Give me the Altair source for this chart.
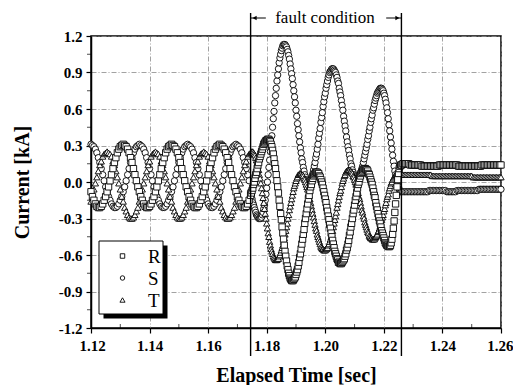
import altair as alt
import pandas as pd

# recorder sampling: 0.5 ms outside the fault, 0.25 ms during the fault
PRE_START, PRE_STEP = 1.12, 0.0005
FAULT_START, FAULT_STEP = 1.1745, 0.00025
POST_START, POST_STEP = 1.2265, 0.0005

# ---- phase R (squares) ----
R_PRE = [-0.08, -0.12, -0.15, -0.18, -0.20, -0.21, -0.21, -0.20, -0.18, -0.15, -0.12, -0.08, -0.04, 0.01, 0.06, 0.11, 0.16, 0.20, 0.24, 0.27, 0.29, 0.30,
         0.31, 0.30, 0.29, 0.27, 0.24, 0.20, 0.16, 0.11, 0.06, 0.01, -0.04, -0.08, -0.12, -0.15, -0.18, -0.20, -0.21, -0.21, -0.20, -0.18, -0.15, -0.12, -0.08, -0.04, 0.01, 0.06, 0.11, 0.16, 0.20, 0.24, 0.27, 0.29, 0.30,
         0.31, 0.30, 0.29, 0.27, 0.24, 0.20, 0.16, 0.11, 0.06, 0.01, -0.04, -0.08, -0.12, -0.15, -0.18, -0.20, -0.21, -0.21, -0.20, -0.18, -0.15, -0.12, -0.08, -0.04, 0.01, 0.06, 0.11, 0.16, 0.20, 0.24, 0.27, 0.29, 0.30,
         0.31, 0.30, 0.29, 0.27, 0.24, 0.20, 0.16, 0.11, 0.06, 0.01, -0.04, -0.08, -0.12, -0.15, -0.18, -0.20, -0.21, -0.21, -0.20, -0.18, -0.15]
R_FAULT = [-0.11, -0.09, -0.07, -0.05, -0.02, 0.00, 0.03, 0.06, 0.08, 0.11, 0.14, 0.16, 0.19, 0.21, 0.23, 0.25, 0.27, 0.29, 0.31, 0.32, 0.33, 0.34, 0.34, 0.35, 0.35,
           0.35, 0.34, 0.33, 0.31, 0.29, 0.26, 0.23, 0.19, 0.15, 0.11, 0.06, 0.01, -0.04, -0.09, -0.15, -0.20, -0.26, -0.31, -0.37, -0.42, -0.47, -0.52, -0.57, -0.61, -0.65, -0.69, -0.72, -0.75, -0.77, -0.79, -0.80, -0.81, -0.81,
           -0.81, -0.80, -0.79, -0.78, -0.76, -0.74, -0.72, -0.69, -0.66, -0.62, -0.59, -0.55, -0.51, -0.47, -0.43, -0.39, -0.34, -0.30, -0.26, -0.22, -0.18, -0.14, -0.11, -0.07, -0.04, -0.02, 0.01, 0.03, 0.05, 0.06, 0.07, 0.08, 0.08,
           0.08, 0.07, 0.07, 0.05, 0.04, 0.02, 0.00, -0.02, -0.05, -0.08, -0.11, -0.14, -0.17, -0.21, -0.24, -0.28, -0.31, -0.35, -0.38, -0.42, -0.45, -0.48, -0.51, -0.54, -0.57, -0.59, -0.61, -0.63, -0.64, -0.66, -0.66, -0.67, -0.67,
           -0.67, -0.66, -0.65, -0.64, -0.63, -0.61, -0.59, -0.56, -0.54, -0.51, -0.48, -0.44, -0.41, -0.37, -0.34, -0.30, -0.26, -0.23, -0.19, -0.15, -0.12, -0.09, -0.05, -0.02, 0.00, 0.03, 0.05, 0.07, 0.08, 0.09, 0.10, 0.11, 0.11,
           0.11, 0.10, 0.10, 0.09, 0.07, 0.06, 0.04, 0.02, 0.00, -0.02, -0.05, -0.08, -0.11, -0.13, -0.17, -0.20, -0.23, -0.26, -0.29, -0.32, -0.34, -0.37, -0.40, -0.42, -0.44, -0.46, -0.48, -0.50, -0.51, -0.52, -0.52, -0.53, -0.53,
           -0.53, -0.52, -0.50, -0.47, -0.43, -0.38, -0.32, -0.25, -0.18, -0.11, -0.04, 0.02, 0.07, 0.11, 0.13, 0.14, 0.14]
R_POST = [0.15, 0.15, 0.15, 0.15, 0.15, 0.14, 0.14, 0.14, 0.14, 0.14,
          0.14, 0.14, 0.14, 0.13, 0.13, 0.13, 0.13, 0.13, 0.13, 0.13,
          0.13, 0.13, 0.13, 0.13, 0.13, 0.14, 0.14, 0.14, 0.14, 0.14,
          0.14, 0.14, 0.14, 0.14, 0.14, 0.14, 0.14, 0.14, 0.13, 0.13,
          0.13, 0.13, 0.13, 0.13, 0.13, 0.13, 0.13, 0.13, 0.13, 0.13,
          0.13, 0.13, 0.13, 0.13, 0.14, 0.14, 0.14, 0.14, 0.14, 0.14,
          0.14, 0.14, 0.14, 0.14, 0.14, 0.14, 0.14, 0.14]

# ---- phase S (circles) ----
S_PRE = [0.31, 0.30, 0.29, 0.27, 0.24, 0.20, 0.16, 0.11, 0.06, 0.01, -0.04, -0.08, -0.12, -0.15, -0.18, -0.20, -0.21, -0.21, -0.20, -0.18, -0.15, -0.12, -0.08, -0.04, 0.01, 0.06, 0.11, 0.16, 0.20, 0.24, 0.27, 0.29, 0.30,
         0.31, 0.30, 0.29, 0.27, 0.24, 0.20, 0.16, 0.11, 0.06, 0.01, -0.04, -0.08, -0.12, -0.15, -0.18, -0.20, -0.21, -0.21, -0.20, -0.18, -0.15, -0.12, -0.08, -0.04, 0.01, 0.06, 0.11, 0.16, 0.20, 0.24, 0.27, 0.29, 0.30,
         0.31, 0.30, 0.29, 0.27, 0.24, 0.20, 0.16, 0.11, 0.06, 0.01, -0.04, -0.08, -0.12, -0.15, -0.18, -0.20, -0.21, -0.21, -0.20, -0.18, -0.15, -0.12, -0.08, -0.04, 0.01, 0.06, 0.11, 0.16, 0.20, 0.24, 0.27, 0.29, 0.30,
         0.31, 0.30, 0.29, 0.27, 0.24, 0.20, 0.16, 0.11, 0.06, 0.01]
S_FAULT = [-0.08, -0.11, -0.14, -0.17, -0.19, -0.21, -0.23, -0.25, -0.27, -0.28, -0.29, -0.30, -0.30, -0.30,
           -0.30, -0.29, -0.27, -0.25, -0.22, -0.19, -0.15, -0.10, -0.05, 0.00, 0.06, 0.12, 0.18, 0.25, 0.31, 0.38, 0.45, 0.52, 0.58, 0.65, 0.71, 0.77, 0.83, 0.88, 0.93, 0.98, 1.02, 1.05, 1.08, 1.10, 1.12, 1.13, 1.13,
           1.13, 1.12, 1.11, 1.09, 1.07, 1.04, 1.01, 0.97, 0.93, 0.89, 0.85, 0.80, 0.75, 0.70, 0.65, 0.59, 0.54, 0.48, 0.43, 0.38, 0.33, 0.28, 0.24, 0.19, 0.16, 0.12, 0.09, 0.06, 0.04, 0.02, 0.01, 0.00, 0.00,
           0.00, 0.01, 0.02, 0.03, 0.05, 0.07, 0.10, 0.13, 0.16, 0.20, 0.23, 0.27, 0.31, 0.36, 0.40, 0.44, 0.49, 0.53, 0.57, 0.62, 0.66, 0.70, 0.73, 0.77, 0.80, 0.83, 0.86, 0.88, 0.90, 0.91, 0.92, 0.93, 0.93,
           0.93, 0.92, 0.91, 0.90, 0.88, 0.86, 0.83, 0.81, 0.77, 0.74, 0.71, 0.67, 0.63, 0.59, 0.54, 0.50, 0.46, 0.42, 0.37, 0.33, 0.29, 0.26, 0.22, 0.19, 0.15, 0.13, 0.10, 0.08, 0.06, 0.05, 0.04, 0.03, 0.03,
           0.03, 0.04, 0.05, 0.06, 0.07, 0.09, 0.11, 0.13, 0.16, 0.19, 0.22, 0.25, 0.28, 0.31, 0.35, 0.38, 0.42, 0.45, 0.49, 0.52, 0.55, 0.59, 0.61, 0.64, 0.67, 0.69, 0.71, 0.73, 0.74, 0.75, 0.76, 0.77, 0.77,
           0.77, 0.76, 0.75, 0.73, 0.71, 0.68, 0.65, 0.61, 0.57, 0.52, 0.47, 0.42, 0.37, 0.32, 0.27, 0.22, 0.17, 0.13, 0.09, 0.06, 0.03, 0.00, -0.02, -0.04, -0.06, -0.07, -0.08, -0.08]
S_POST = [-0.08, -0.08, -0.08, -0.08, -0.08, -0.08, -0.08, -0.08, -0.08, -0.08,
          -0.08, -0.08, -0.08, -0.08, -0.08, -0.08, -0.08, -0.08, -0.07, -0.07,
          -0.07, -0.07, -0.07, -0.07, -0.07, -0.07, -0.07, -0.07, -0.07, -0.07,
          -0.08, -0.08, -0.08, -0.08, -0.08, -0.08, -0.08, -0.07, -0.07, -0.07,
          -0.07, -0.07, -0.07, -0.07, -0.07, -0.07, -0.07, -0.07, -0.07, -0.07,
          -0.07, -0.07, -0.06, -0.06, -0.06, -0.06, -0.06, -0.06, -0.06, -0.06,
          -0.06, -0.06, -0.06, -0.06, -0.06, -0.06, -0.06, -0.06]

# ---- phase T (triangles) ----
T_PRE = [-0.16, -0.12, -0.06, -0.01, 0.04, 0.09, 0.14, 0.17, 0.21, 0.23, 0.24,
         0.25, 0.24, 0.23, 0.21, 0.17, 0.14, 0.09, 0.04, -0.01, -0.06, -0.12, -0.16, -0.21, -0.24, -0.27, -0.29, -0.30, -0.30, -0.29, -0.27, -0.24, -0.21, -0.16, -0.12, -0.06, -0.01, 0.04, 0.09, 0.14, 0.17, 0.21, 0.23, 0.24,
         0.25, 0.24, 0.23, 0.21, 0.17, 0.14, 0.09, 0.04, -0.01, -0.06, -0.12, -0.16, -0.21, -0.24, -0.27, -0.29, -0.30, -0.30, -0.29, -0.27, -0.24, -0.21, -0.16, -0.12, -0.06, -0.01, 0.04, 0.09, 0.14, 0.17, 0.21, 0.23, 0.24,
         0.25, 0.24, 0.23, 0.21, 0.17, 0.14, 0.09, 0.04, -0.01, -0.06, -0.12, -0.16, -0.21, -0.24, -0.27, -0.29, -0.30, -0.30, -0.29, -0.27, -0.24, -0.21, -0.16, -0.12, -0.06, -0.01, 0.04, 0.09, 0.14, 0.17, 0.21, 0.23]
T_FAULT = [0.24, 0.25, 0.25, 0.25, 0.24, 0.23, 0.22, 0.20, 0.18, 0.16, 0.13, 0.10, 0.06, 0.03, -0.01, -0.05, -0.09, -0.13, -0.17, -0.22, -0.26, -0.30, -0.34, -0.38, -0.42, -0.45, -0.49, -0.52, -0.55, -0.57, -0.59, -0.61, -0.62, -0.63, -0.64, -0.64,
           -0.64, -0.63, -0.63, -0.61, -0.60, -0.58, -0.56, -0.54, -0.52, -0.49, -0.46, -0.43, -0.40, -0.37, -0.34, -0.30, -0.27, -0.23, -0.20, -0.17, -0.14, -0.11, -0.08, -0.05, -0.03, -0.01, 0.01, 0.03, 0.04, 0.06, 0.06, 0.07, 0.07,
           0.07, 0.06, 0.06, 0.05, 0.03, 0.02, 0.00, -0.02, -0.04, -0.06, -0.09, -0.11, -0.14, -0.17, -0.20, -0.23, -0.26, -0.29, -0.32, -0.35, -0.38, -0.40, -0.43, -0.45, -0.47, -0.49, -0.51, -0.53, -0.54, -0.55, -0.55, -0.56, -0.56,
           -0.56, -0.55, -0.55, -0.54, -0.52, -0.51, -0.49, -0.47, -0.45, -0.42, -0.40, -0.37, -0.34, -0.31, -0.28, -0.25, -0.21, -0.18, -0.15, -0.12, -0.09, -0.07, -0.04, -0.01, 0.01, 0.03, 0.05, 0.06, 0.08, 0.09, 0.09, 0.10, 0.10,
           0.10, 0.09, 0.09, 0.08, 0.07, 0.05, 0.04, 0.02, 0.00, -0.02, -0.04, -0.07, -0.09, -0.12, -0.14, -0.17, -0.20, -0.23, -0.25, -0.28, -0.30, -0.33, -0.35, -0.37, -0.39, -0.41, -0.42, -0.44, -0.45, -0.46, -0.46, -0.47, -0.47,
           -0.47, -0.47, -0.46, -0.45, -0.44, -0.43, -0.41, -0.40, -0.38, -0.36, -0.34, -0.31, -0.29, -0.27, -0.24, -0.22, -0.19, -0.17, -0.14, -0.12, -0.10, -0.07, -0.05, -0.03, -0.01, 0.00, 0.02, 0.03, 0.04, 0.05, 0.06, 0.06, 0.06,
           0.06, 0.06, 0.06, 0.06, 0.06, 0.06]
T_POST = [0.06, 0.06, 0.06, 0.06, 0.06, 0.06, 0.06, 0.06, 0.06, 0.06,
          0.06, 0.06, 0.06, 0.06, 0.06, 0.06, 0.06, 0.06, 0.06, 0.06,
          0.05, 0.05, 0.05, 0.05, 0.05, 0.05, 0.05, 0.05, 0.05, 0.05,
          0.05, 0.05, 0.05, 0.05, 0.05, 0.05, 0.05, 0.05, 0.05, 0.05,
          0.05, 0.05, 0.05, 0.05, 0.05, 0.05, 0.05, 0.05, 0.04, 0.04,
          0.04, 0.04, 0.04, 0.04, 0.04, 0.04, 0.04, 0.04, 0.04, 0.04,
          0.04, 0.04, 0.04, 0.04, 0.04, 0.04, 0.04, 0.04]

SERIES = ["R", "S", "T"]
SHAPES = ["square", "circle", "triangle-up"]
DRAW_ORDER = ["S", "T", "R"]
FAULT_TIMES = [1.1745, 1.226]
FAULT_LABEL = "fault condition"
X_TICKS = [1.12, 1.14, 1.16, 1.18, 1.20, 1.22, 1.24, 1.26]
Y_TICKS = [-1.2, -0.9, -0.6, -0.3, 0.0, 0.3, 0.6, 0.9, 1.2]
X_MINOR = [1.13, 1.15, 1.17, 1.19, 1.21, 1.23, 1.25]
Y_MINOR = [-1.05, -0.75, -0.45, -0.15, 0.15, 0.45, 0.75, 1.05]

segments = {
    "R": [R_PRE, R_FAULT, R_POST],
    "S": [S_PRE, S_FAULT, S_POST],
    "T": [T_PRE, T_FAULT, T_POST],
}
timing = [(PRE_START, PRE_STEP), (FAULT_START, FAULT_STEP), (POST_START, POST_STEP)]
rows = []
for name in DRAW_ORDER:
    for seg, (start, step) in zip(segments[name], timing):
        for i, v in enumerate(seg):
            rows.append({"t": round(start + step * i, 5), "v": v, "series": name})
df = pd.DataFrame(rows)

W, H = 410, 292
FONT = "Liberation Serif"
xs = alt.Scale(domain=[X_TICKS[0], X_TICKS[-1]], nice=False, zero=False)
ys = alt.Scale(domain=[Y_TICKS[0], Y_TICKS[-1]], nice=False, zero=False)

x_axis = alt.Axis(values=X_TICKS, format=".2f", labelFont=FONT, labelFontWeight="bold",
                  labelFontSize=15, labelColor="black", labelPadding=5, labelFlush=True,
                  labelFlushOffset=12, labelOverlap=False, tickSize=5, tickColor="black",
                  tickWidth=1.2, domainColor="black", domainWidth=1.5, grid=True,
                  gridColor="#8a8a8a", gridDash=[5, 2, 1, 2], gridWidth=0.8,
                  title="Elapsed Time [sec]", titleFont=FONT, titleFontWeight="bold",
                  titleFontSize=20, titleColor="black", titleY=53, titleBaseline="alphabetic")
y_axis = alt.Axis(values=Y_TICKS, labelExpr="replace(format(datum.value, '.1f'), '\u2212', '-')",
                  labelFont=FONT, labelFontWeight="bold", labelFontSize=15, labelColor="black",
                  labelPadding=4, labelFlush=False, labelOverlap=False, tickSize=5,
                  tickColor="black", tickWidth=1.2, domainColor="black", domainWidth=1.5,
                  grid=True, gridColor="#8a8a8a", gridDash=[5, 2, 1, 2], gridWidth=0.8,
                  title="Current [kA]", titleFont=FONT, titleFontWeight="bold",
                  titleFontSize=20, titleColor="black", titleX=-68.5, titleY=H / 2,
                  titleAngle=270, titleBaseline="middle", titleAlign="center")

points = alt.Chart(df).mark_point(filled=True, fill="white", stroke="black", strokeWidth=0.9,
                                  size=40, opacity=1).encode(
    x=alt.X("t:Q", scale=xs, axis=x_axis),
    y=alt.Y("v:Q", scale=ys, axis=y_axis),
    shape=alt.Shape("series:N", scale=alt.Scale(domain=SERIES, range=SHAPES), legend=None),
)

fault_df = pd.DataFrame({"t": FAULT_TIMES})
fault_lines = alt.Chart(fault_df).mark_rule(color="black", strokeWidth=1.4).encode(
    x=alt.X("t:Q", scale=xs, axis=None), y=alt.value(-23), y2=alt.value(H + 28))

ARROW = 0.0052
arrow_df = pd.DataFrame({"a": [FAULT_TIMES[0], FAULT_TIMES[1] - ARROW],
                         "b": [FAULT_TIMES[0] + ARROW, FAULT_TIMES[1]]})
shafts = alt.Chart(arrow_df).mark_rule(color="black", strokeWidth=1).encode(
    x=alt.X("a:Q", scale=xs, axis=None), x2="b:Q", y=alt.value(-18))
head_l = alt.Chart(pd.DataFrame({"t": [FAULT_TIMES[0]]})).mark_point(
    shape="triangle-left", filled=True, color="black", size=22, opacity=1, xOffset=4).encode(
    x=alt.X("t:Q", scale=xs, axis=None), y=alt.value(-18))
head_r = alt.Chart(pd.DataFrame({"t": [FAULT_TIMES[1]]})).mark_point(
    shape="triangle-right", filled=True, color="black", size=22, opacity=1, xOffset=-4).encode(
    x=alt.X("t:Q", scale=xs, axis=None), y=alt.value(-18))
label = alt.Chart(pd.DataFrame({"t": [(FAULT_TIMES[0] + FAULT_TIMES[1]) / 2],
                                "txt": [FAULT_LABEL]})).mark_text(
    font=FONT, fontSize=17, color="black", align="center", baseline="middle", dx=-1).encode(
    x=alt.X("t:Q", scale=xs, axis=None), y=alt.value(-18), text="txt:N")

x_minor = alt.Chart(pd.DataFrame({"t": X_MINOR})).mark_tick(
    orient="vertical", size=4, thickness=1, color="black", yOffset=-2).encode(
    x=alt.X("t:Q", scale=xs, axis=None), y=alt.YDatum(Y_TICKS[0], axis=None))
y_minor = alt.Chart(pd.DataFrame({"v": Y_MINOR})).mark_tick(
    orient="horizontal", size=4, thickness=1, color="black", xOffset=-2).encode(
    y=alt.Y("v:Q", scale=ys, axis=None), x=alt.XDatum(X_TICKS[0], axis=None))

# hand-drawn legend box with drop shadow (pixel layout, not data)
one = pd.DataFrame({"k": [0]})
legend_layers = [
    alt.Chart(one).mark_rect(color="black").encode(
        x=alt.value(12.5), x2=alt.value(76.5), y=alt.value(209.5), y2=alt.value(282.5)),
    alt.Chart(one).mark_rect(fill="white", stroke="black", strokeWidth=1).encode(
        x=alt.value(8), x2=alt.value(72), y=alt.value(205), y2=alt.value(278)),
]
for k, (name, shp) in enumerate(zip(SERIES, SHAPES)):
    ly = 220 + 22 * k
    legend_layers.append(alt.Chart(one).mark_point(
        shape=shp, filled=True, fill="white", stroke="black", strokeWidth=0.9,
        size=26 if shp == "triangle-up" else 20, opacity=1).encode(
        x=alt.value(31.5), y=alt.value(ly)))
    legend_layers.append(alt.Chart(one).mark_text(
        font=FONT, fontSize=19, color="black", align="left", baseline="middle").encode(
        x=alt.value(57), y=alt.value(ly + 1), text=alt.value(name)))

chart = alt.layer(points, fault_lines, shafts, head_l, head_r, label,
                  x_minor, y_minor, *legend_layers).resolve_axis(
    x="independent", y="independent").properties(
    width=W, height=H,
    padding={"left": 83, "top": 28, "right": 12, "bottom": 57},
    autosize=alt.AutoSizeParams(type="none"),
).configure_view(stroke="black", strokeWidth=1.5)

chart.save("out.html", embed_options={"renderer": "svg", "actions": False})
